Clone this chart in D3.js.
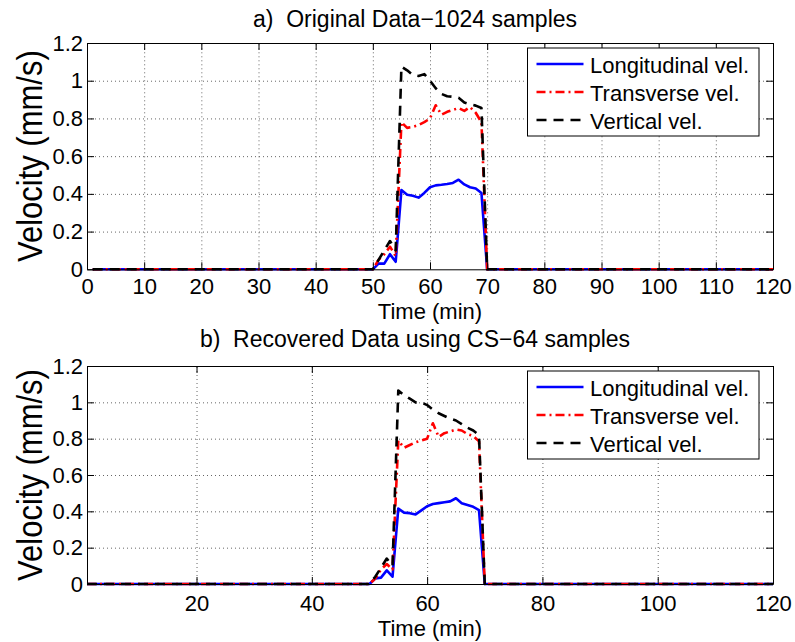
<!DOCTYPE html>
<html>
<head>
<meta charset="utf-8">
<script src="https://cdn.jsdelivr.net/npm/d3@7"></script>
<style>
  body { margin: 0; background: #fff; }
  svg { display: block; font-family: "Liberation Sans", Arial, Helvetica, sans-serif; }
</style>
</head>
<body>
<svg id="chart" width="795" height="642"></svg>
<script>
// ---- Data ----
const times = [1, 50, 51, 52, 53, 54, 55, 56, 57, 58, 59, 60, 61, 62, 63, 64, 65, 66, 67, 68, 69, 70, 120];

// Panel a: original data (1024 samples)
const longA  = [0, 0, 0.03, 0.03, 0.08, 0.04, 0.42, 0.395, 0.39, 0.38, 0.405, 0.435, 0.445, 0.448, 0.452, 0.458, 0.475, 0.45, 0.435, 0.428, 0.405, 0, 0];
const transA = [0, 0, 0.05, 0.08, 0.12, 0.07, 0.78, 0.75, 0.755, 0.765, 0.78, 0.80, 0.87, 0.82, 0.835, 0.845, 0.855, 0.84, 0.86, 0.83, 0.78, 0, 0];
const vertA  = [0, 0, 0.05, 0.10, 0.15, 0.10, 1.075, 1.055, 1.03, 1.025, 1.035, 1.0, 0.96, 0.93, 0.918, 0.915, 0.91, 0.885, 0.875, 0.868, 0.855, 0, 0];

// Panel b: recovered data (CS-64 samples)
const longB  = [0, 0, 0.03, 0.035, 0.075, 0.04, 0.415, 0.393, 0.39, 0.383, 0.405, 0.428, 0.44, 0.445, 0.45, 0.455, 0.472, 0.445, 0.435, 0.425, 0.407, 0, 0];
const transB = [0, 0, 0.03, 0.08, 0.11, 0.08, 0.79, 0.75, 0.765, 0.78, 0.79, 0.80, 0.885, 0.81, 0.83, 0.84, 0.85, 0.845, 0.825, 0.815, 0.785, 0, 0];
const vertB  = [0, 0, 0.04, 0.09, 0.14, 0.10, 1.065, 1.04, 1.02, 1.0, 1.0, 0.985, 0.96, 0.94, 0.925, 0.91, 0.9, 0.88, 0.86, 0.845, 0.82, 0, 0];

const seriesNames = ["Longitudinal vel.", "Transverse vel.", "Vertical vel."];
const xTicksA = [0, 10, 20, 30, 40, 50, 60, 70, 80, 90, 100, 110, 120];
const xTicksB = [20, 40, 60, 80, 100, 120];
const yTicks = [0, 0.2, 0.4, 0.6, 0.8, 1.0, 1.2];
const titles = ["a)  Original Data\u22121024 samples", "b)  Recovered Data using CS\u221264 samples"];
const xLabel = "Time (min)";
const yLabel = "Velocity (mm/s)";

// ---- Styles ----
const styles = [
  { color: "#0000ff", dash: null },
  { color: "#ff0000", dash: "9,4,2,4" },
  { color: "#000000", dash: "10,7" }
];

const svg = d3.select("#chart");

const panels = [
  { top: 43, bottom: 269.3, xDomain: [0, 120], xTicks: xTicksA, title: titles[0], titleY: 27,
    tickPad: 9, xlabelY: 319, legendTop: 48, data: [longA, transA, vertA] },
  { top: 366, bottom: 584, xDomain: [1, 120], xTicks: xTicksB, title: titles[1], titleY: 347,
    tickPad: 11, xlabelY: 636, legendTop: 371, data: [longB, transB, vertB] }
];

const left = 87, right = 773;
const tickLen = 7;

panels.forEach(p => {
  const x = d3.scaleLinear().domain(p.xDomain).range([left, right]);
  const y = d3.scaleLinear().domain([0, 1.2]).range([p.bottom, p.top]);
  const h = p.bottom - p.top, w = right - left;
  const g = svg.append("g");

  // grid
  g.append("g")
    .attr("transform", `translate(0,${p.bottom})`)
    .call(d3.axisBottom(x).tickValues(p.xTicks.filter(t => t > p.xDomain[0] && t < p.xDomain[1]))
      .tickSize(-h).tickFormat(""))
    .call(s => s.select(".domain").remove())
    .call(s => s.selectAll("line").attr("stroke", "#666").attr("stroke-dasharray", "1,3"));
  g.append("g")
    .attr("transform", `translate(${left},0)`)
    .call(d3.axisLeft(y).tickValues(yTicks.filter(t => t > 0 && t < 1.2))
      .tickSize(-w).tickFormat(""))
    .call(s => s.select(".domain").remove())
    .call(s => s.selectAll("line").attr("stroke", "#666").attr("stroke-dasharray", "1,3"));

  // lines
  const line = d3.line().x((d, i) => x(times[i])).y(d => y(d));
  p.data.forEach((vals, k) => {
    g.append("path")
      .datum(vals)
      .attr("d", line)
      .attr("fill", "none")
      .attr("stroke", styles[k].color)
      .attr("stroke-width", 2.6)
      .attr("stroke-linejoin", "round")
      .attr("stroke-dasharray", styles[k].dash);
  });

  // axes
  const fmtY = d => d3.format("~g")(d);
  const ax = g.append("g").attr("transform", `translate(0,${p.bottom})`)
    .call(d3.axisBottom(x).tickValues(p.xTicks).tickSizeInner(-tickLen).tickSizeOuter(0).tickPadding(p.tickPad).tickFormat(d3.format("d")));
  const at = g.append("g").attr("transform", `translate(0,${p.top})`)
    .call(d3.axisTop(x).tickValues(p.xTicks).tickSizeInner(-tickLen).tickSizeOuter(0).tickFormat(""));
  const al = g.append("g").attr("transform", `translate(${left},0)`)
    .call(d3.axisLeft(y).tickValues(yTicks).tickSizeInner(-tickLen).tickSizeOuter(0).tickPadding(4).tickFormat(fmtY));
  const ar = g.append("g").attr("transform", `translate(${right},0)`)
    .call(d3.axisRight(y).tickValues(yTicks).tickSizeInner(-tickLen).tickSizeOuter(0).tickFormat(""));
  [ax, at, al, ar].forEach(a => {
    a.selectAll(".domain").attr("stroke", "#000").attr("stroke-width", 1);
    a.selectAll(".tick line").attr("stroke", "#000");
    a.selectAll("text").attr("fill", "#000").style("font-size", "22px")
      .style("font-family", '"Liberation Sans", Arial, sans-serif');
  });

  // title
  svg.append("text")
    .attr("x", 415).attr("y", p.titleY)
    .attr("text-anchor", "middle")
    .style("white-space", "pre")
    .style("font-size", "23px")
    .text(p.title);

  // x label
  svg.append("text")
    .attr("x", (left + right) / 2).attr("y", p.xlabelY)
    .attr("text-anchor", "middle")
    .style("font-size", "22px")
    .text(xLabel);

  // y label
  svg.append("text")
    .attr("transform", `translate(41.7,${(p.top + p.bottom) / 2}) scale(1.15,1) rotate(-90)`)
    .attr("text-anchor", "middle")
    .style("font-size", "31px")
    .text(yLabel);

  // legend
  const lg = svg.append("g").attr("transform", `translate(527.5,${p.legendTop})`);
  lg.append("rect").attr("width", 231.5).attr("height", 88)
    .attr("fill", "#fff").attr("stroke", "#000").attr("stroke-width", 1);
  seriesNames.forEach((name, k) => {
    const ry = 16 + k * 28;
    lg.append("line")
      .attr("x1", 9).attr("x2", 56).attr("y1", ry).attr("y2", ry)
      .attr("stroke", styles[k].color).attr("stroke-width", 2.6)
      .attr("stroke-dasharray", styles[k].dash);
    lg.append("text")
      .attr("x", 62.5).attr("y", ry + 8.5)
      .style("font-size", "22px")
      .text(name);
  });
});
</script>
</body>
</html>
